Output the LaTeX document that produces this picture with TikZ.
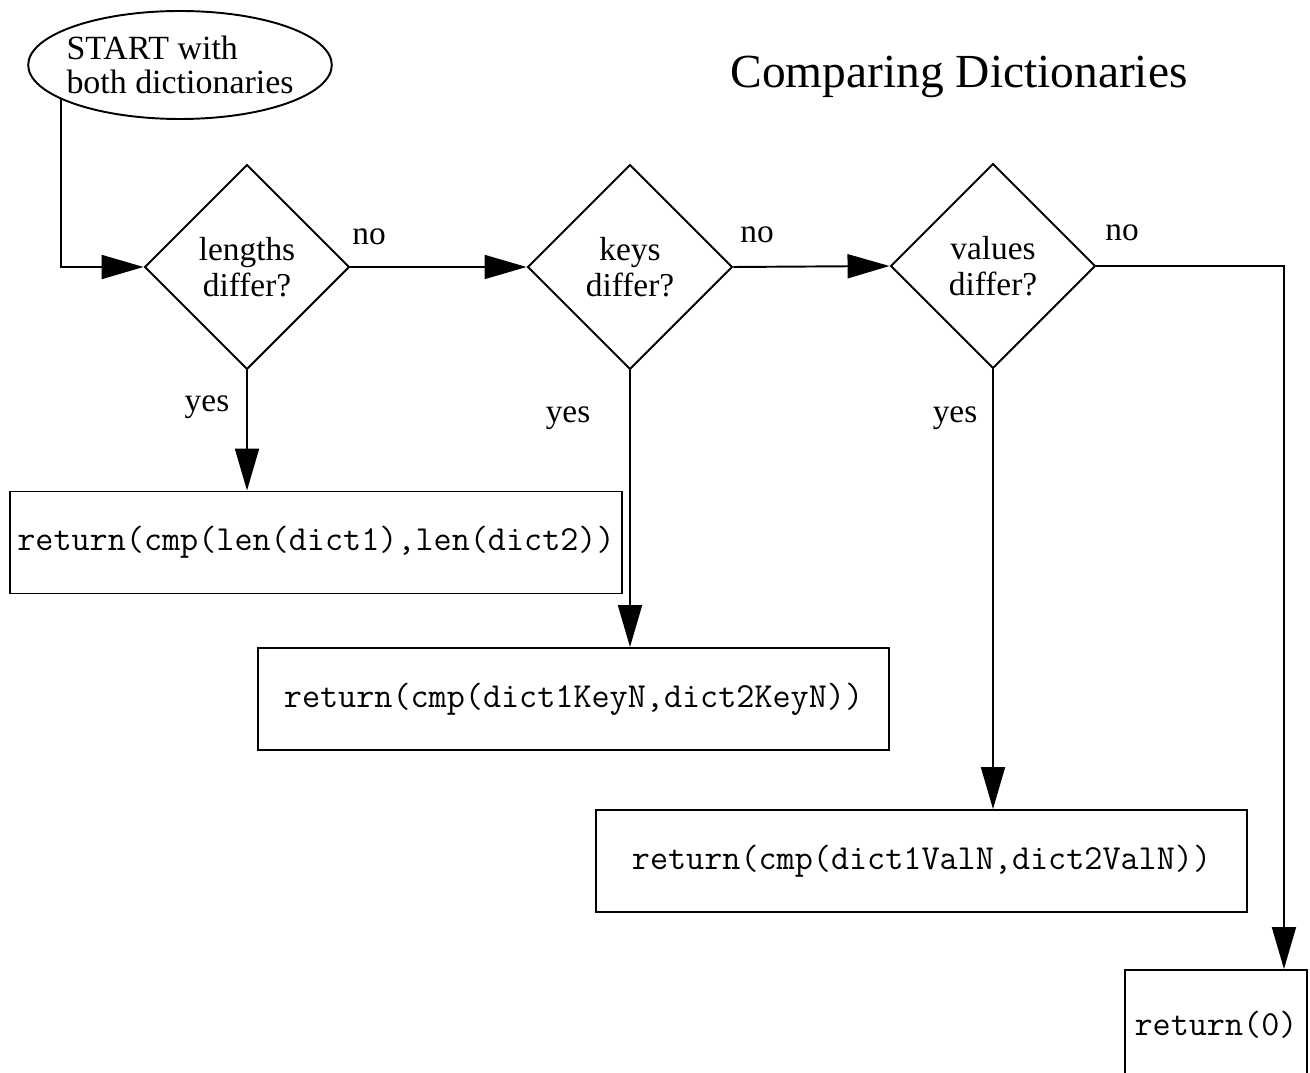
\documentclass[tikz,border=0pt]{standalone}
\usepackage{fontspec}
\setmainfont{Liberation Serif}
\usetikzlibrary{shapes,arrows.meta,positioning}

\begin{document}
\begin{tikzpicture}[line width=1.1pt]
    \edef\decisionsize{4.1cm}
    \tikzstyle{decision}=[draw,diamond,aspect=1,inner sep=0pt,minimum size=\decisionsize,align=center,font=\fontsize{19}{20.5}\selectfont]
    \tikzstyle{retbox}=[draw,rectangle,minimum height=2.04cm,font=\ttfamily\fontsize{20}{21}\selectfont]
    \tikzstyle{answer}=[font=\fontsize{19}{20}\selectfont]
    \tikzstyle{flow}=[-{Triangle[length=0.84cm,width=0.48cm]}]

    \useasboundingbox (0,0) rectangle (26.2,-21.46);
    \clip (0,0) rectangle (26.2,-21.46);

    % start and title
    \node[draw,ellipse,minimum width=6.04cm,minimum height=2.16cm,inner xsep=-3.5pt,inner ysep=0pt,align=left,
          font=\fontsize{19.3}{19.5}\selectfont] (start) at (3.6,-1.3) {START with\\both dictionaries};
    \node[font=\fontsize{27}{30}\selectfont] (title) at (19.18,-1.54) {Comparing Dictionaries};

    % the three tests
    \node[decision] (lengths) at (4.94,-5.34)  {lengths\\differ?};
    \node[decision] (keys)    at (12.6,-5.34)  {keys\\differ?};
    \node[decision] (values)  at (19.86,-5.32) {values\\differ?};

    % results
    \node[retbox,minimum width=12.24cm] (retlen) at (6.32,-10.85)  {return(cmp(len(dict1),len(dict2))};
    \node[retbox,minimum width=12.62cm] (retkey) at (11.47,-13.98) {return(cmp(dict1KeyN,dict2KeyN))};
    \node[retbox,minimum width=13.02cm] (retval) at (18.43,-17.22) {return(cmp(dict1ValN,dict2ValN))};
    \node[retbox,minimum width=3.64cm,minimum height=2.2cm] (retzero) at (24.32,-20.5) {return(0)};

    % yes / no
    \node[answer] (nolen) at (7.38,-4.74)  {no};
    \node[answer] (nokey) at (15.14,-4.7)  {no};
    \node[answer] (noval) at (22.44,-4.66) {no};
    \node[answer] (yeslen) at (4.14,-8.14) {yes};
    \node[answer] (yeskey) at (11.36,-8.36) {yes};
    \node[answer] (yesval) at (19.1,-8.36) {yes};

    % connectors
    \draw[flow] (start.196) |- (lengths.west);
    \draw[flow] (lengths.east) -- (keys.west);
    \draw[flow] (keys.east) -- (values.west);
    \draw[flow] (values.east) -| ([xshift=-0.48cm]retzero.north east);
    \draw[flow] (lengths.south) -- (lengths.south |- retlen.north);
    \draw[flow] (keys.south) -- (keys.south |- retkey.north);
    \draw[flow] (values.south) -- (values.south |- retval.north);
\end{tikzpicture}
\end{document}
